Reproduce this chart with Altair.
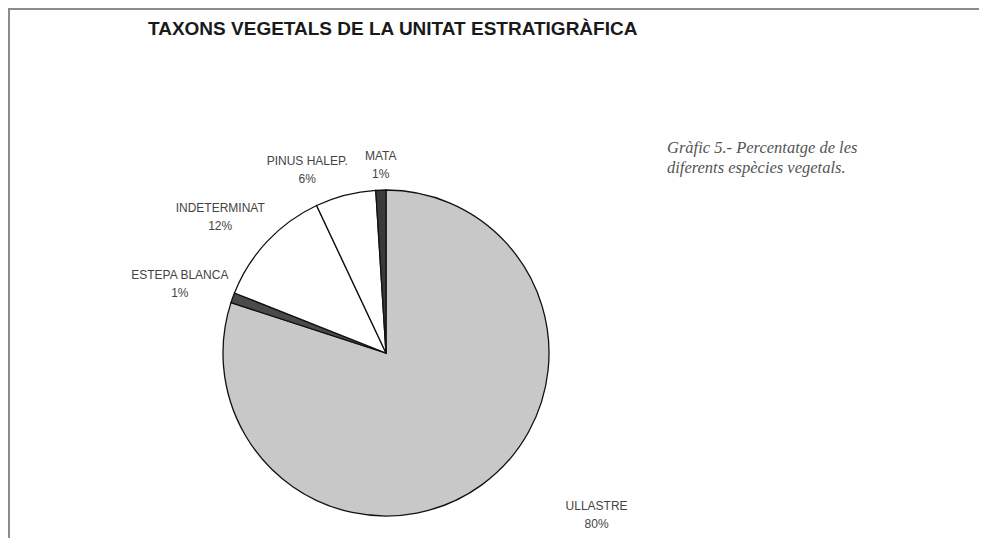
import altair as alt
import pandas as pd

# ---- data ----
categories = ["ULLASTRE", "ESTEPA BLANCA", "INDETERMINAT", "PINUS HALEP.", "MATA"]
values = [80, 1, 12, 6, 1]
pct_labels = ["80%", "1%", "12%", "6%", "1%"]
fill_colors = ["#c8c8c8", "#4a4a4a", "#ffffff", "#ffffff", "#3a3a3a"]

title_text = "TAXONS VEGETALS DE LA UNITAT ESTRATIGRÀFICA"
caption_lines = ["Gràfic 5.- Percentatge de les", "diferents espècies vegetals."]

# ---- layout / style ----
W, H = 971, 530
CX, CY = 378, 345
R = 163
LABEL_R = 200
label_nudges = {
    "ULLASTRE": (93, -9),
    "ESTEPA BLANCA": (-18, -10),
    "INDETERMINAT": (-20, -8),
    "PINUS HALEP.": (-29, 2),
    "MATA": (1, 3),
}

df = pd.DataFrame({
    "cat": categories,
    "value": values,
    "pct": pct_labels,
    "order": list(range(len(categories))),
})

theta_scale = alt.Scale(domain=[0, 100])

pie = alt.Chart(df).mark_arc(outerRadius=R, stroke="#111111", strokeWidth=1.3).encode(
    theta=alt.Theta("value:Q", stack=True, scale=theta_scale),
    order=alt.Order("order:Q"),
    color=alt.Color("cat:N", scale=alt.Scale(domain=categories, range=fill_colors), legend=None),
    x=alt.value(CX),
    y=alt.value(CY),
)

lab_base = alt.Chart(df).transform_window(
    cum="sum(value)", sort=[alt.SortField("order")], frame=[None, 0]
).transform_calculate(
    mid="datum.cum - datum.value / 2",
    label="datum.cat + '\\n' + datum.pct",
)

label_layers = []
for c, (dx, dy) in label_nudges.items():
    label_layers.append(
        lab_base.transform_filter(alt.datum.cat == c).mark_text(
            dx=dx, dy=dy, lineBreak="\n", lineHeight=18, fontSize=12,
            font="Liberation Sans", color="#444444", align="center", baseline="middle",
        ).encode(
            theta=alt.Theta("mid:Q", stack=None, scale=theta_scale),
            radius=alt.value(LABEL_R),
            x=alt.value(CX),
            y=alt.value(CY),
            text="label:N",
        )
    )

title = alt.Chart(pd.DataFrame({"t": [title_text]})).mark_text(
    align="left", baseline="alphabetic", font="Liberation Sans", fontWeight="bold",
    fontSize=19, color="#1a1a1a",
).encode(text="t:N", x=alt.value(140), y=alt.value(27))

caption = alt.Chart(pd.DataFrame({"t": ["\n".join(caption_lines)]})).mark_text(
    align="left", baseline="alphabetic", font="Liberation Serif", fontStyle="italic",
    fontSize=16.5, lineBreak="\n", lineHeight=20, color="#555555",
).encode(text="t:N", x=alt.value(659), y=alt.value(145))

dummy = pd.DataFrame({"a": [0]})
frame_top = alt.Chart(dummy).mark_rule(color="#8c8c8c", strokeWidth=2).encode(
    x=alt.value(0), x2=alt.value(W), y=alt.value(1)
)
frame_left = alt.Chart(dummy).mark_rule(color="#8c8c8c", strokeWidth=2).encode(
    x=alt.value(1), y=alt.value(0), y2=alt.value(H)
)

chart = alt.layer(
    frame_top, frame_left, pie, *label_layers, title, caption
).properties(
    width=W, height=H, autosize=alt.AutoSizeParams(type="none"), padding=0,
    background="white",
).configure_view(stroke=None)

chart.save("out.html", embed_options={"renderer": "svg", "actions": False})
